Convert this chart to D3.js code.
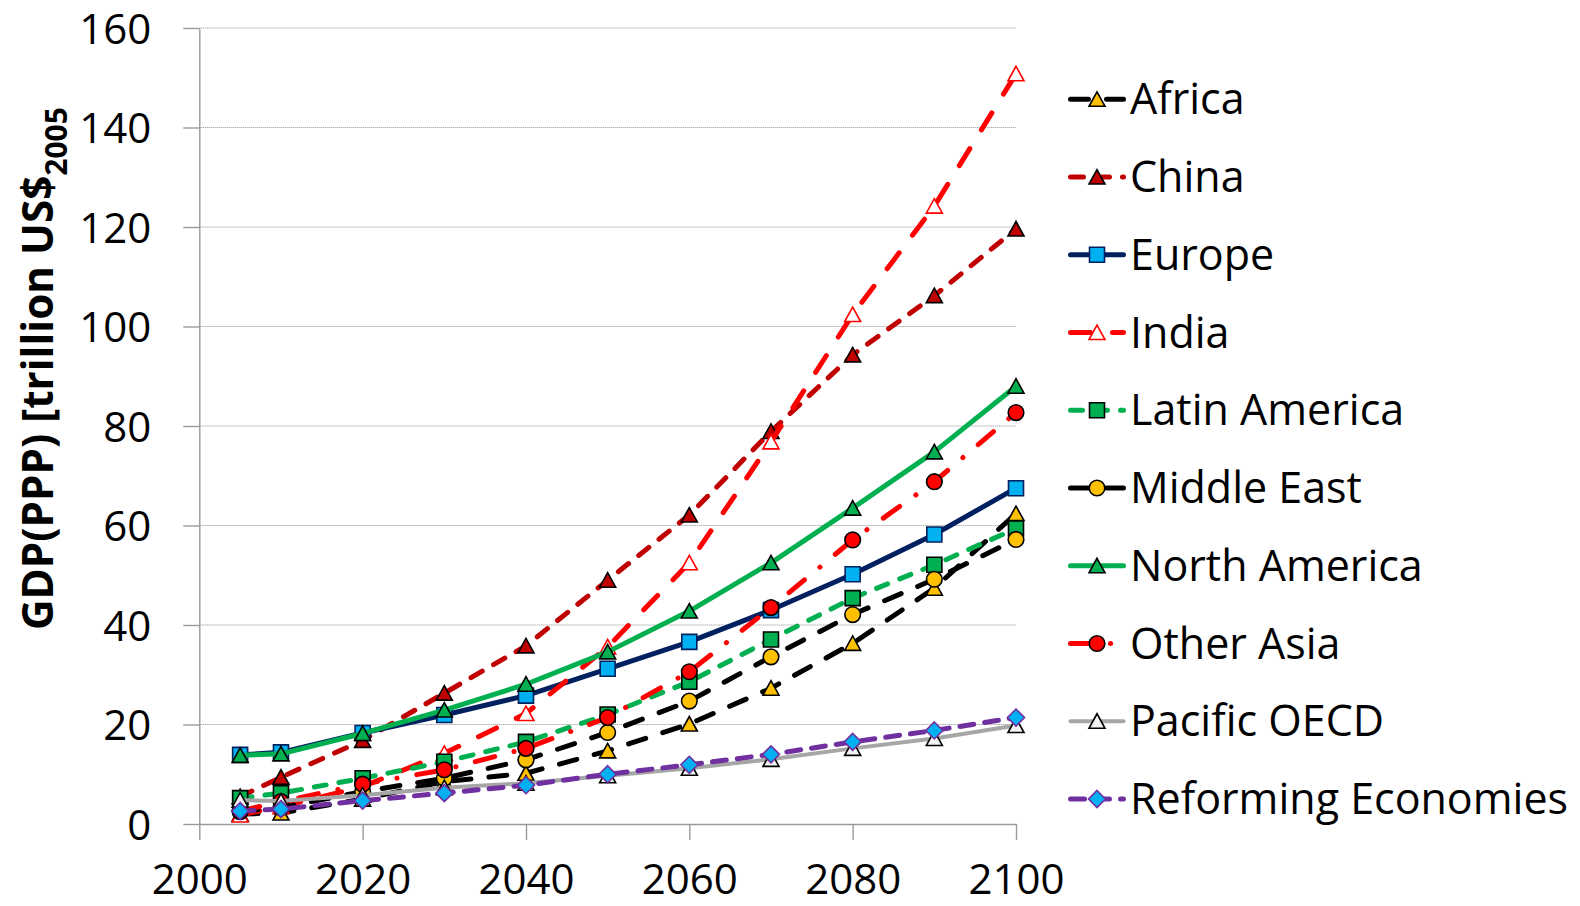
<!DOCTYPE html>
<html>
<head>
<meta charset="utf-8">
<script src="https://cdn.jsdelivr.net/npm/d3@7"></script>
<style>
  html, body { margin: 0; padding: 0; background: #fff; }
  svg { display: block; font-family: "Open Sans", "Noto Sans", sans-serif; }
</style>
</head>
<body>
<svg id="chart" width="1580" height="906"></svg>
<script>
// GDP (PPP) projections by world region, trillion US$ (2005 prices)
const years = [2005, 2010, 2020, 2030, 2040, 2050, 2060, 2070, 2080, 2090, 2100];

const africa       = [2.0, 2.2, 5.0, 8.5, 10.2, 14.7, 20.1, 27.3, 36.3, 47.4, 62.4];
const china        = [5.5, 9.4, 16.8, 26.3, 35.8, 49.0, 62.1, 78.9, 94.3, 106.2, 119.6];
const europe       = [13.9, 14.4, 18.3, 21.9, 25.8, 31.2, 36.6, 43.0, 50.2, 58.2, 67.5];
const india        = [1.8, 3.5, 7.5, 14.2, 22.2, 35.6, 52.5, 76.8, 102.4, 124.2, 150.8];
const latinAmerica = [5.2, 6.2, 9.2, 12.5, 16.5, 22.0, 28.6, 37.1, 45.4, 52.1, 59.4];
const middleEast   = [2.5, 3.3, 6.5, 9.2, 12.9, 18.4, 24.7, 33.6, 42.1, 49.2, 57.2];
const northAmerica = [13.8, 14.1, 18.2, 22.9, 28.1, 34.6, 42.8, 52.5, 63.5, 74.8, 88.0];
const otherAsia    = [2.6, 4.5, 8.0, 10.9, 15.2, 21.4, 30.6, 43.5, 57.1, 68.8, 82.7];
const pacificOECD  = [4.8, 4.6, 5.8, 7.3, 8.2, 9.7, 11.2, 13.0, 15.2, 17.2, 19.8];
const reforming    = [2.6, 3.0, 4.7, 6.2, 7.8, 10.0, 11.9, 14.0, 16.5, 18.8, 21.4];

const regionNames = ["Africa", "China", "Europe", "India", "Latin America",
                     "Middle East", "North America", "Other Asia", "Pacific OECD",
                     "Reforming Economies"];
const regionValues = [africa, china, europe, india, latinAmerica,
                      middleEast, northAmerica, otherAsia, pacificOECD, reforming];

const yTickValues = [0, 20, 40, 60, 80, 100, 120, 140, 160];
const xTickValues = [2000, 2020, 2040, 2060, 2080, 2100];

// Line and marker appearance per region (same order as regionNames)
const looks = [
  { line: "#000000", dash: "18,18",        width: 5, marker: "triangle", fill: "#ffc000", edge: "#000000" },
  { line: "#c00000", dash: "13,13",        width: 5, marker: "triangle", fill: "#c00000", edge: "#000000" },
  { line: "#002060", dash: null,           width: 5, marker: "square",   fill: "#00b0f0", edge: "#002060" },
  { line: "#ff0000", dash: "20,22",        width: 5, marker: "triangle", fill: "#ffffff", edge: "#ff0000" },
  { line: "#00b050", dash: "12,13",        width: 5, marker: "square",   fill: "#00b050", edge: "#000000" },
  { line: "#000000", dash: "18,18",        width: 5, marker: "circle",   fill: "#ffc000", edge: "#000000" },
  { line: "#00b050", dash: null,           width: 5, marker: "triangle", fill: "#00b050", edge: "#000000" },
  { line: "#ff0000", dash: "20,20,0.1,20", width: 5, marker: "circle",   fill: "#ff0000", edge: "#000000" },
  { line: "#a6a6a6", dash: null,           width: 4, marker: "triangle", fill: "#f2f2f2", edge: "#000000" },
  { line: "#7030a0", dash: "14,11",        width: 5, marker: "diamond",  fill: "#00b0f0", edge: "#7030a0" }
];

const circlePath = (() => { const p = d3.path(); p.arc(0, 0, 7.8, 0, 2 * Math.PI); p.closePath(); return p.toString(); })();
const markerPaths = {
  triangle: "M0,-7.5L8,7L-8,7Z",
  square:   "M-7.5,-7.5H7.5V7.5H-7.5Z",
  circle:   circlePath,
  diamond:  "M0,-8.5L8.5,0L0,8.5L-8.5,0Z"
};

const svg = d3.select("#chart");

const x = d3.scaleLinear().domain([2000, 2100]).range([199.3, 1016]);
const y = d3.scaleLinear().domain([0, 160]).range([824, 28]);

const axisColor = "#9a9a9a";

// horizontal gridlines
svg.append("g")
  .selectAll("line")
  .data(yTickValues.filter(v => v > 0))
  .join("line")
  .attr("x1", x(2000)).attr("x2", x(2100))
  .attr("y1", d => y(d)).attr("y2", d => y(d))
  .attr("stroke", "#8f8f8f")
  .attr("stroke-width", 1)
  .attr("stroke-dasharray", "1,1");

// y axis
const yAxis = svg.append("g")
  .attr("transform", `translate(${x(2000)},0)`)
  .call(d3.axisLeft(y).tickValues(yTickValues).tickSize(16).tickSizeOuter(0).tickPadding(32)
        .tickFormat(d => String(d)));

// x axis
const xAxis = svg.append("g")
  .attr("transform", `translate(0,${y(0)})`)
  .call(d3.axisBottom(x).tickValues(xTickValues).tickSize(16).tickSizeOuter(0)
        .tickFormat(d => String(d)));

[yAxis, xAxis].forEach(g => {
  g.select(".domain").attr("stroke", axisColor).attr("stroke-width", 1.4);
  g.selectAll(".tick line").attr("stroke", axisColor).attr("stroke-width", 1.4);
  g.selectAll(".tick text")
    .attr("fill", "#000")
    .style("font-family", "'Open Sans', sans-serif")
    .style("font-size", "42px");
});
yAxis.selectAll(".tick text").attr("dy", "0.36em");
xAxis.selectAll(".tick text").attr("y", 70).attr("dy", 0);

// y axis title
const title = svg.append("text")
  .attr("transform", `translate(53,630) rotate(-90)`)
  .attr("text-anchor", "start")
  .style("font-family", "'Open Sans', sans-serif")
  .style("font-weight", "bold")
  .style("font-size", "42.2px")
  .attr("fill", "#000");
title.append("tspan").text("GDP(PPP) [trillion US$");
title.append("tspan").attr("dy", 14).style("font-size", "30px").text("2005");

// series lines and markers
const lineGen = d3.line().x((d, i) => x(years[i])).y(d => y(d));

const series = svg.append("g");
regionValues.forEach((vals, k) => {
  const lk = looks[k];
  const g = series.append("g");
  g.append("path")
    .datum(vals)
    .attr("d", lineGen)
    .attr("fill", "none")
    .attr("stroke", lk.line)
    .attr("stroke-width", lk.width)
    .attr("stroke-linecap", "round")
    .attr("stroke-linejoin", "round")
    .attr("stroke-dasharray", lk.dash);
  g.selectAll("path.mk")
    .data(vals)
    .join("path")
    .attr("class", "mk")
    .attr("transform", (d, i) => `translate(${x(years[i])},${y(d)})`)
    .attr("d", markerPaths[lk.marker])
    .attr("fill", lk.fill)
    .attr("stroke", lk.edge)
    .attr("stroke-width", 1.6);
});

// legend
const legendRow = d3.scaleLinear().domain([0, 9]).range([99.3, 799]);
const legend = svg.append("g");
regionNames.forEach((name, k) => {
  const lk = looks[k];
  const g = legend.append("g").attr("transform", `translate(0,${legendRow(k)})`);
  g.append("line")
    .attr("x1", 1070.5).attr("x2", 1123.5)
    .attr("stroke", lk.line)
    .attr("stroke-width", lk.width)
    .attr("stroke-linecap", "round")
    .attr("stroke-dasharray", lk.dash);
  g.append("path")
    .attr("transform", "translate(1097,0)")
    .attr("d", markerPaths[lk.marker])
    .attr("fill", lk.fill)
    .attr("stroke", lk.edge)
    .attr("stroke-width", 1.6);
  g.append("text")
    .attr("x", 1130)
    .attr("y", 15)
    .style("font-family", "'Open Sans', sans-serif")
    .style("font-size", "43px")
    .attr("fill", "#000")
    .text(name);
});
</script>
</body>
</html>
